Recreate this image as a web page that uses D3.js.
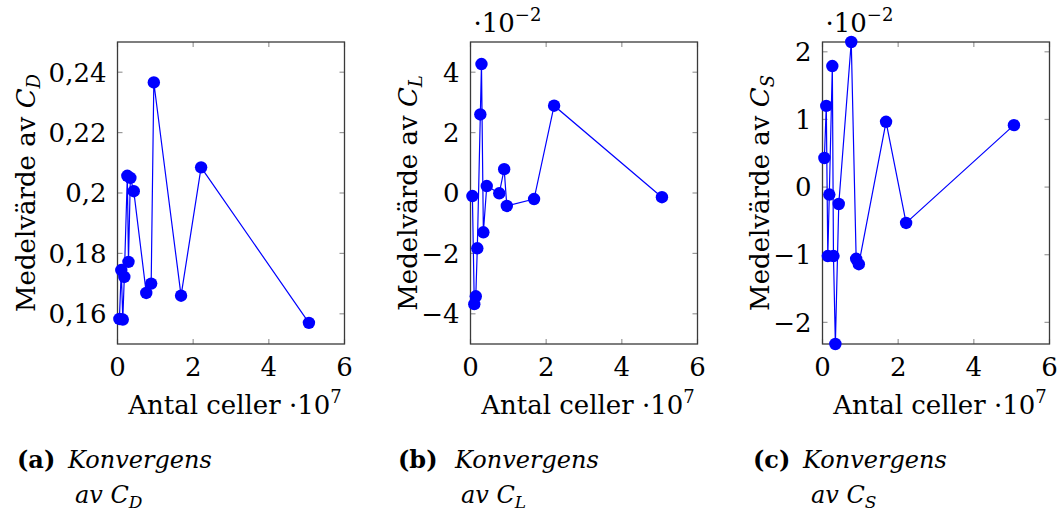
<!DOCTYPE html>
<html>
<head>
<meta charset="utf-8">
<script src="https://cdn.jsdelivr.net/npm/d3@7"></script>
<style>
  body { margin: 0; background: #fff; }
  svg { display: block; }
</style>
</head>
<body>
<svg width="1059" height="515" font-family="'DejaVu Serif', serif"></svg>
<script>
// antal celler (x 10^7), samma nät för alla tre
const cells = [0.05, 0.1, 0.14, 0.18, 0.26, 0.29, 0.34, 0.43, 0.76, 0.89, 0.96, 1.68, 2.21, 5.06];
const cd = [0.1583, 0.1745, 0.1581, 0.1722, 0.2057, 0.1772, 0.2050, 0.2006, 0.1669, 0.1700, 0.2366, 0.1660, 0.2085, 0.1570];
const cl = [-0.10, -3.68, -3.42, -1.83, 2.60, 4.27, -1.30, 0.23, -0.01, 0.79, -0.43, -0.20, 2.89, -0.14];   // x 10^-2
const cs = [0.43, 1.20, -1.02, -0.11, 1.79, -1.02, -2.32, -0.25, 2.145, -1.06, -1.14, 0.965, -0.53, 0.916]; // x 10^-2

const xTicks = [0, 2, 4, 6];
const cdTicks = [0.16, 0.18, 0.2, 0.22, 0.24];
const clTicks = [-4, -2, 0, 2, 4];
const csTicks = [-2, -1, 0, 1, 2];

const panels = [
  { letter: "a", sub: "D", values: cd, ticks: cdTicks, domain: [0.15, 0.25], fmt: d => String(d).replace(".", ","), exp: false,
    left: 117.5, labelX: 35, capX: [17, 68, 75] },
  { letter: "b", sub: "L", values: cl, ticks: clTicks, domain: [-5, 5], fmt: d => String(d).replace("-", "\u2212"), exp: true,
    left: 470.5, labelX: 417, capX: [398, 455, 461] },
  { letter: "c", sub: "S", values: cs, ticks: csTicks, domain: d3.extent(cs), fmt: d => String(d).replace("-", "\u2212"), exp: true,
    left: 822.5, labelX: 769, capX: [753, 803, 811] }
];

const W = 227, H = 302, topY = 42;
const fs = 26, fsSmall = 18, fsCap = 24;
const svg = d3.select("svg");

panels.forEach(p => {
  const g = svg.append("g").attr("transform", `translate(${p.left},${topY})`);
  const x = d3.scaleLinear().domain([0, 6]).range([0, W]);
  const y = d3.scaleLinear().domain(p.domain).range([H, 0]);
  const tl = 5;

  // ticks inne i rutan, alla fyra sidor
  g.selectAll("line.xt").data(xTicks).enter().append("line")
    .attr("x1", d => x(d)).attr("x2", d => x(d)).attr("y1", H).attr("y2", H - tl)
    .attr("stroke", "#999").attr("stroke-width", 1.2);
  g.selectAll("line.xt2").data(xTicks).enter().append("line")
    .attr("x1", d => x(d)).attr("x2", d => x(d)).attr("y1", 0).attr("y2", tl)
    .attr("stroke", "#999").attr("stroke-width", 1.2);
  g.selectAll("line.yt").data(p.ticks).enter().append("line")
    .attr("x1", 0).attr("x2", tl).attr("y1", d => y(d)).attr("y2", d => y(d))
    .attr("stroke", "#999").attr("stroke-width", 1.2);
  g.selectAll("line.yt2").data(p.ticks).enter().append("line")
    .attr("x1", W - tl).attr("x2", W).attr("y1", d => y(d)).attr("y2", d => y(d))
    .attr("stroke", "#999").attr("stroke-width", 1.2);

  g.append("rect").attr("width", W).attr("height", H)
    .attr("fill", "none").attr("stroke", "#3a3a3a").attr("stroke-width", 1.3);

  // tick labels
  g.selectAll("text.xl").data(xTicks).enter().append("text")
    .attr("x", d => x(d)).attr("y", 376 - topY)
    .attr("text-anchor", "middle").attr("font-size", fs)
    .text(d => d);
  g.selectAll("text.yl").data(p.ticks).enter().append("text")
    .attr("x", -11).attr("y", d => y(d)).attr("dy", "0.36em")
    .attr("text-anchor", "end").attr("font-size", fs)
    .text(p.fmt);

  // x-etikett
  const xl = g.append("text").attr("x", W / 2 + 4).attr("y", 414 - topY)
    .attr("text-anchor", "middle").attr("font-size", fs);
  xl.append("tspan").text("Antal celler \u00b710");
  xl.append("tspan").attr("dy", -11).attr("font-size", fsSmall).text("7");

  // y-etikett
  const yl = svg.append("text")
    .attr("transform", `translate(${p.labelX},${topY + H / 2}) rotate(-90)`)
    .attr("text-anchor", "middle").attr("font-size", fs);
  yl.append("tspan").text("Medelvärde av ");
  yl.append("tspan").attr("font-style", "italic").text("C");
  yl.append("tspan").attr("font-style", "italic").attr("font-size", fsSmall).attr("dy", 5).text(p.sub);

  if (p.exp) {
    const e = g.append("text").attr("x", 3).attr("y", 32 - topY).attr("font-size", fs);
    e.append("tspan").text("\u00b710");
    e.append("tspan").attr("dy", -11).attr("font-size", fsSmall).text("\u22122");
  }

  // linje + markörer
  const pts = cells.map((c, i) => [c, p.values[i]]);
  g.append("path").datum(pts)
    .attr("fill", "none").attr("stroke", "#0000ff").attr("stroke-width", 1.2)
    .attr("d", d3.line().x(d => x(d[0])).y(d => y(d[1])));
  g.selectAll("circle").data(pts).enter().append("circle")
    .attr("cx", d => x(d[0])).attr("cy", d => y(d[1])).attr("r", 6.2)
    .attr("fill", "#0000ff");

  // bildtext
  const cx = p.capX;
  svg.append("text").attr("x", cx[0]).attr("y", 468).attr("font-size", fsCap)
    .attr("font-weight", "bold").text(`(${p.letter})`);
  svg.append("text").attr("x", cx[1]).attr("y", 468).attr("font-size", fsCap)
    .attr("font-style", "italic").text("Konvergens");
  const c2 = svg.append("text").attr("x", cx[2]).attr("y", 503).attr("font-size", fsCap)
    .attr("font-style", "italic");
  c2.append("tspan").text("av C");
  c2.append("tspan").attr("font-size", 17).attr("dy", 5).text(p.sub);
});
</script>
</body>
</html>
